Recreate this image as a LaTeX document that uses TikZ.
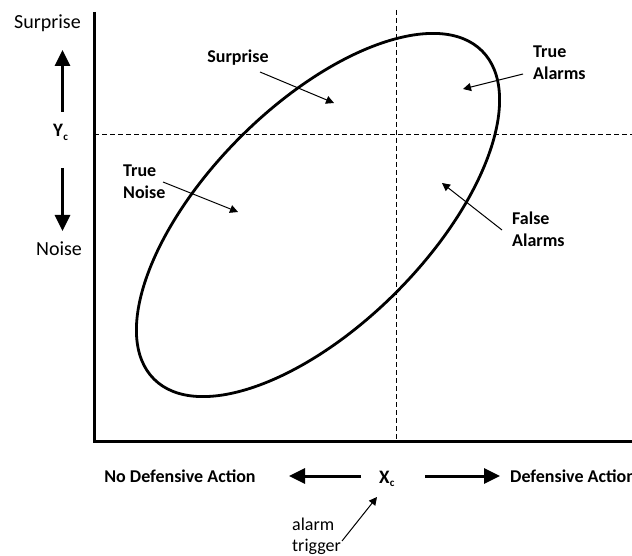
\documentclass[tikz,border=0pt]{standalone}
\usepackage{fontspec}
\setmainfont{Carlito}
\usetikzlibrary{arrows.meta}
% variable name with a lowered subscript letter
\newcommand{\varsub}[2]{#1\kern0.3pt\raisebox{-3.5pt}{\fontsize{11}{11}\selectfont #2}}
\begin{document}
\begin{tikzpicture}[x=1pt,y=-1pt,
  axis/.style={line width=3pt, line join=miter},
  guide/.style={line width=1pt, dash pattern=on 5pt off 3pt},
  region/.style={line width=2.8pt},
  bigarrow/.style={line width=3pt, -{Triangle[length=16pt,width=15pt]}},
  pointer/.style={line width=1pt, -{Triangle[length=8pt,width=8pt]}},
  lbl/.style={font=\fontsize{20}{24}\selectfont, inner sep=0pt},
  blbl/.style={font=\bfseries\fontsize{18}{22}\selectfont, inner sep=0pt, align=left},
]
\useasboundingbox (0,0) rectangle (632,556);

% axes and threshold lines
\draw[axis] (94,12) |- (640,441);
\draw[guide] (396,10) -- (396,441);
\draw[guide] (94,135) -- (640,135);

% detection region
\draw[region, rotate around={45:(318,215)}] (318,215) ellipse [x radius=232, y radius=110];

% vertical scale labels
\node[lbl, anchor=base] (ysurprise) at (47.5,29) {Surprise};
\node[lbl, anchor=base] (ynoise) at (59,255) {Noise};
\node[lbl, anchor=base west, font=\bfseries\fontsize{19}{22}\selectfont] (yc) at (53,137) {\varsub{Y}{c}};
\coordinate (upTail) at (62.5,112);
\coordinate (upTip) at (62.5,50);
\coordinate (dnTail) at (62.5,168);
\coordinate (dnTip) at (62.5,231);
\draw[bigarrow] (upTail) -- (upTip);
\draw[bigarrow] (dnTail) -- (dnTip);

% horizontal scale labels
\node[blbl, anchor=base] (xno) at (180,482) {No Defensive Action};
\node[blbl, anchor=base west] (xyes) at (510,482) {Defensive Action};
\node[lbl, anchor=base west, font=\bfseries\fontsize{19}{22}\selectfont] (xc) at (379,483) {\varsub{X}{c}};
\coordinate (lfTail) at (361,476);
\coordinate (lfTip) at (289,476);
\coordinate (rtTail) at (425,476);
\coordinate (rtTip) at (500,476);
\draw[bigarrow] (lfTail) -- (lfTip);
\draw[bigarrow] (rtTail) -- (rtTip);

% the last line of each stacked label sits on the given baseline
\node[blbl, anchor=base west, font=\fontsize{18}{21}\selectfont] (trig) at (292,551) {alarm\\trigger};
\coordinate (trigFrom) at (342,541);
\coordinate (trigTo) at (377,497);
\draw[pointer] (trigFrom) -- (trigTo);

% quadrant labels
\node[blbl, anchor=base] (qsurprise) at (238,62.5) {Surprise};
\coordinate (qsFrom) at (260,72);
\coordinate (qsTo) at (334,103);
\draw[pointer] (qsFrom) -- (qsTo);

\node[blbl, anchor=base west] (qta) at (533,80) {True\\Alarms};
\coordinate (qtaFrom) at (523,74);
\coordinate (qtaTo) at (463,89);
\draw[pointer] (qtaFrom) -- (qtaTo);

\node[blbl, anchor=base west] (qtn) at (123,199) {True\\Noise};
\coordinate (qtnFrom) at (163,182);
\coordinate (qtnTo) at (238,212);
\draw[pointer] (qtnFrom) -- (qtnTo);

\node[blbl, anchor=base west] (qfa) at (512,247) {False\\Alarms};
\coordinate (qfaFrom) at (502,230);
\coordinate (qfaTo) at (442,183);
\draw[pointer] (qfaFrom) -- (qfaTo);
\end{tikzpicture}
\end{document}
